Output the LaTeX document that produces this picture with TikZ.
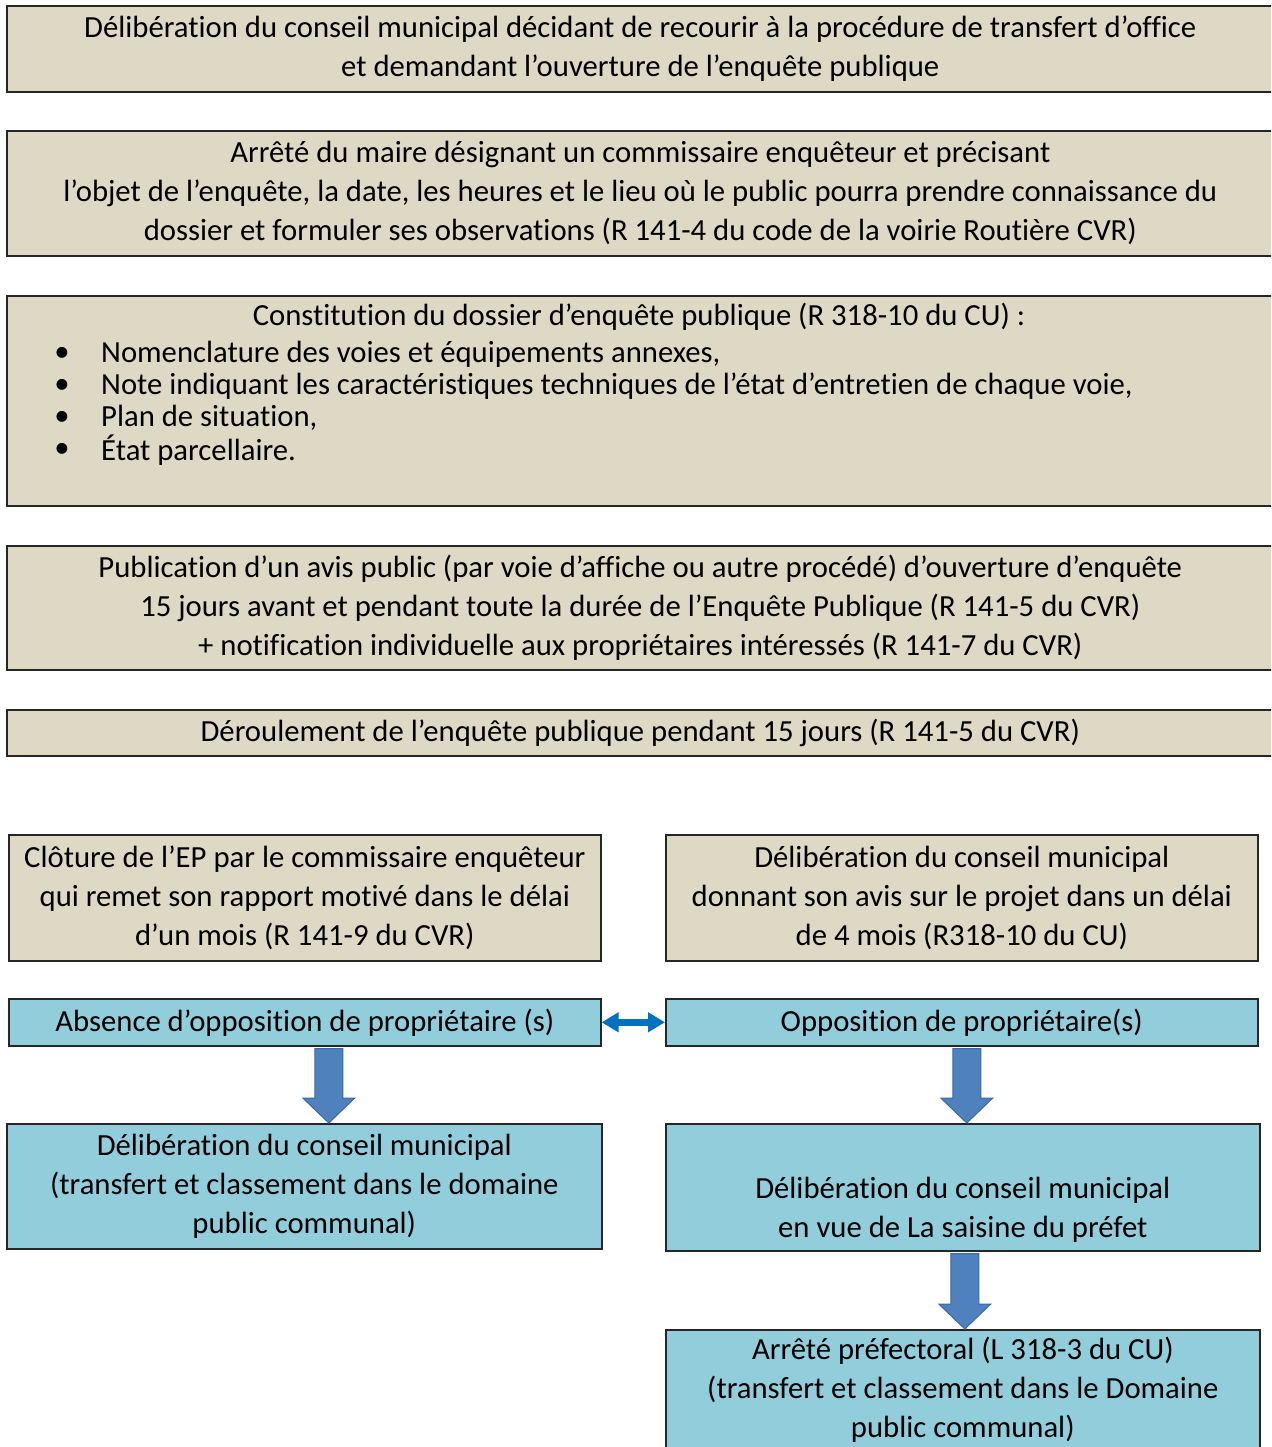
\documentclass[tikz,border=0pt]{standalone}
\usepackage{fontspec}
\setmainfont[Ligatures=NoCommon]{Carlito}
\usetikzlibrary{calc,arrows.meta}
\definecolor{tan}{HTML}{DDD9C4}
\definecolor{lblue}{HTML}{92CDDC}
\definecolor{arrowfill}{HTML}{4F81BD}
\definecolor{arrowline}{HTML}{3A6BA8}
\definecolor{dblue}{HTML}{0070C0}
\tikzset{
  box/.style={draw=black!85, line width=1.6pt, anchor=north west, inner sep=0pt, align=center,
    font=\fontsize{30.7}{39}\selectfont},
  tanbox/.style={box, fill=tan},
  bluebox/.style={box, fill=lblue},
  fatarrow/.style={fill=arrowfill, draw=arrowline, line width=1pt, line join=miter},
  plain/.style={inner sep=0pt, font=\fontsize{30.7}{32}\selectfont}
}
\newcommand{\fatdown}[3]{%
  \draw[fatarrow] let \p1=(#1), \p2=(#2), \n1={\x1+#3pt} in
    (\n1-14pt,\y1-2pt) -- (\n1+14pt,\y1-2pt) -- (\n1+14pt,\y2+25pt) -- (\n1+26pt,\y2+25pt)
    -- (\n1,\y2) -- (\n1-26pt,\y2+25pt) -- (\n1-14pt,\y2+25pt) -- cycle;}
\begin{document}
\begin{tikzpicture}[x=1pt,y=-1pt]
\useasboundingbox (0,0) rectangle (1271,1447);
\clip (0,0) rectangle (1271,1447);
\fill[white] (0,0) rectangle (1271,1447);

\node[tanbox, minimum width=1267pt, minimum height=86pt] (b1) at (6,5)
  {Délibération du conseil municipal décidant de recourir à la procédure de transfert d’office\\
   et demandant l’ouverture de l’enquête publique};
\node[tanbox, minimum width=1267pt, minimum height=125pt] (b2) at (6,130)
  {Arrêté du maire désignant un commissaire enquêteur et précisant\\
   l’objet de l’enquête, la date, les heures et le lieu où le public pourra prendre connaissance du\\
   dossier et formuler ses observations (R 141-4 du code de la voirie Routière CVR)};
\node[tanbox, minimum width=1267pt, minimum height=210pt] (b3) at (6,295) {};
\node[plain] (b3t) at (639,317) {Constitution du dossier d’enquête publique (R 318-10 du CU) :};
\foreach \y/\t [count=\i] in {354/{Nomenclature des voies et équipements annexes,},
  386/{Note indiquant les caractéristiques techniques de l’état d’entretien de chaque voie,},
  418/{Plan de situation,}, 450/{État parcellaire.}}{
  \node[plain] (bul\i) at (62,\y) {\textbullet};
  \node[plain, anchor=west] (item\i) at (101,\y) {\t};
}
\node[tanbox, minimum width=1267pt, minimum height=124pt] (b4) at (6,545)
  {Publication d’un avis public (par voie d’affiche ou autre procédé) d’ouverture d’enquête\\
   15 jours avant et pendant toute la durée de l’Enquête Publique (R 141-5 du CVR)\\
   + notification individuelle aux propriétaires intéressés (R 141-7 du CVR)};
\node[tanbox, minimum width=1267pt, minimum height=46pt] (b5) at (6,709)
  {Déroulement de l’enquête publique pendant 15 jours (R 141-5 du CVR)};

\node[tanbox, minimum width=592pt, minimum height=126pt] (l1) at (8,834)
  {Clôture de l’EP par le commissaire enquêteur\\
   qui remet son rapport motivé dans le délai\\
   d’un mois (R 141-9 du CVR)};
\node[tanbox, minimum width=592pt, minimum height=126pt] (r1) at (665,834)
  {Délibération du conseil municipal\\
   donnant son avis sur le projet dans un délai\\
   de 4 mois (R318-10 du CU)};

\node[bluebox, minimum width=592pt, minimum height=47pt] (l2) at (8,998)
  {Absence d’opposition de propriétaire (s)};
\node[bluebox, minimum width=592pt, minimum height=47pt] (r2) at (665,998)
  {Opposition de propriétaire(s)};

\node[bluebox, minimum width=595pt, minimum height=125pt] (l3) at (6,1123)
  {Délibération du conseil municipal\\
   (transfert et classement dans le domaine\\
   public communal)};
\node[bluebox, minimum width=594pt, minimum height=127pt] (r3) at (665,1123)
  {\strut\\ Délibération du conseil municipal\\
   en vue de La saisine du préfet};
\node[bluebox, minimum width=594pt, minimum height=120pt] (r4) at (665,1329)
  {Arrêté préfectoral (L 318-3 du CU)\\
   (transfert et classement dans le Domaine\\
   public communal)};

\draw[dblue, line width=7pt, {Triangle[length=17pt,width=19pt]}-{Triangle[length=17pt,width=19pt]}]
  (l2.east) -- (r2.west);

\fatdown{l2.south}{l3.north}{24}
\fatdown{r2.south}{r3.north}{5}
\fatdown{r3.south}{r4.north}{2}
\end{tikzpicture}
\end{document}
